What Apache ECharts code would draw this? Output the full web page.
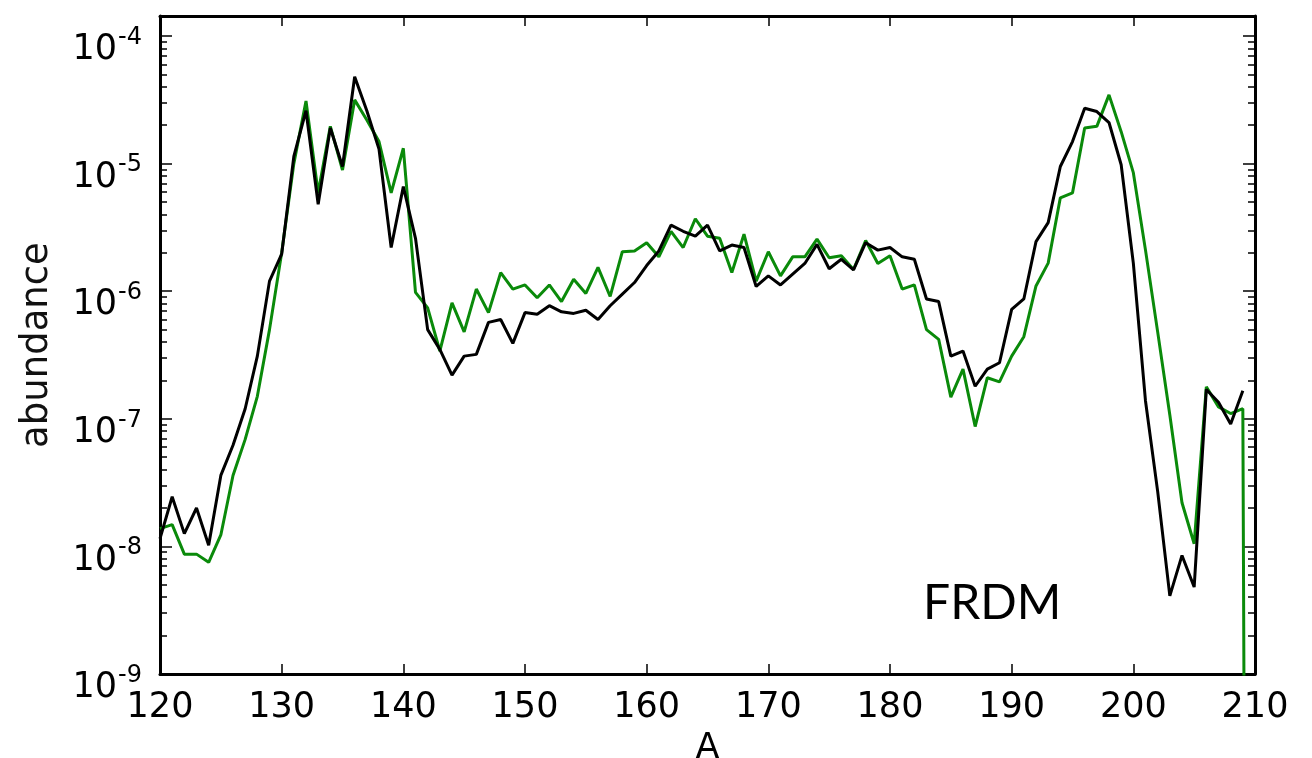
<!DOCTYPE html>
<html>
<head>
<meta charset="utf-8">
<script src="https://cdn.jsdelivr.net/npm/echarts@6/dist/echarts.min.js"></script>
<style>
  html, body { margin: 0; padding: 0; background: #ffffff; }
  #chart { width: 1312px; height: 758px; }
</style>
</head>
<body>
<div id="chart"></div>
<script>
// Mass number A for every point on both curves
const massNumbers = [
  120, 121, 122, 123, 124, 125, 126, 127, 128, 129,
  130, 131, 132, 133, 134, 135, 136, 137, 138, 139,
  140, 141, 142, 143, 144, 145, 146, 147, 148, 149,
  150, 151, 152, 153, 154, 155, 156, 157, 158, 159,
  160, 161, 162, 163, 164, 165, 166, 167, 168, 169,
  170, 171, 172, 173, 174, 175, 176, 177, 178, 179,
  180, 181, 182, 183, 184, 185, 186, 187, 188, 189,
  190, 191, 192, 193, 194, 195, 196, 197, 198, 199,
  200, 201, 202, 203, 204, 205, 206, 207, 208, 209,
  210
];

// Final abundances, black curve
const abundanceBlack = [
  1.15e-8, 2.45e-8, 1.26e-8, 2.0e-8, 1.02e-8, 3.6e-8, 6.2e-8, 1.2e-7, 3.1e-7, 1.2e-6,
  1.95e-6, 1.14e-5, 2.6e-5, 4.8e-6, 1.9e-5, 9.5e-6, 4.8e-5, 2.6e-5, 1.3e-5, 2.2e-6,
  6.6e-6, 2.6e-6, 5.0e-7, 3.5e-7, 2.2e-7, 3.1e-7, 3.2e-7, 5.7e-7, 6.0e-7, 3.9e-7,
  6.8e-7, 6.6e-7, 7.7e-7, 6.9e-7, 6.7e-7, 7.1e-7, 6.0e-7, 7.7e-7, 9.5e-7, 1.17e-6,
  1.59e-6, 2.07e-6, 3.3e-6, 2.95e-6, 2.7e-6, 3.3e-6, 2.07e-6, 2.3e-6, 2.2e-6, 1.09e-6,
  1.32e-6, 1.12e-6, 1.36e-6, 1.65e-6, 2.33e-6, 1.5e-6, 1.78e-6, 1.47e-6, 2.4e-6, 2.1e-6,
  2.2e-6, 1.86e-6, 1.78e-6, 8.7e-7, 8.3e-7, 3.1e-7, 3.4e-7, 1.8e-7, 2.45e-7, 2.75e-7,
  7.2e-7, 8.7e-7, 2.45e-6, 3.45e-6, 9.5e-6, 1.49e-5, 2.72e-5, 2.56e-5, 2.1e-5, 9.8e-6,
  1.66e-6, 1.38e-7, 2.7e-8, 4.1e-9, 8.5e-9, 4.8e-9, 1.7e-7, 1.35e-7, 9.1e-8, 1.66e-7,
  null
];

// Final abundances, green curve (the last value is effectively zero)
const abundanceGreen = [
  1.38e-8, 1.48e-8, 8.7e-9, 8.7e-9, 7.5e-9, 1.23e-8, 3.6e-8, 6.9e-8, 1.5e-7, 5.0e-7,
  2.0e-6, 1.0e-5, 3.1e-5, 5.9e-6, 1.96e-5, 8.9e-6, 3.16e-5, 2.2e-5, 1.49e-5, 5.9e-6,
  1.32e-5, 9.8e-7, 7.4e-7, 3.4e-7, 8.1e-7, 4.8e-7, 1.04e-6, 6.8e-7, 1.4e-6, 1.04e-6,
  1.12e-6, 8.9e-7, 1.12e-6, 8.3e-7, 1.24e-6, 9.6e-7, 1.54e-6, 9.1e-7, 2.04e-6, 2.07e-6,
  2.4e-6, 1.86e-6, 2.95e-6, 2.2e-6, 3.7e-6, 2.7e-6, 2.6e-6, 1.4e-6, 2.8e-6, 1.2e-6,
  2.04e-6, 1.32e-6, 1.86e-6, 1.86e-6, 2.56e-6, 1.83e-6, 1.9e-6, 1.48e-6, 2.5e-6, 1.65e-6,
  1.9e-6, 1.04e-6, 1.12e-6, 5.0e-7, 4.2e-7, 1.48e-7, 2.45e-7, 8.7e-8, 2.1e-7, 1.95e-7,
  3.1e-7, 4.4e-7, 1.1e-6, 1.66e-6, 5.4e-6, 5.9e-6, 1.9e-5, 1.96e-5, 3.46e-5, 1.78e-5,
  8.5e-6, 2.1e-6, 4.8e-7, 1.07e-7, 2.2e-8, 1.05e-8, 1.78e-7, 1.24e-7, 1.1e-7, 1.2e-7,
  1e-30
];

// Axis ranges and ticks
const xTickValues = [120, 130, 140, 150, 160, 170, 180, 190, 200, 210];
const yDecadeExponents = [-9, -8, -7, -6, -5, -4];
const yMin = 1e-9;
const yMax = 1.436e-4;

const INK = '#000000';
const LABEL_FONT = 'DejaVu Sans';

// minor log ticks at 2..9 x 10^n
const yMinorTicks = [];
yDecadeExponents.forEach(function (e) {
  for (let m = 2; m <= 9; m++) {
    const v = m * Math.pow(10, e);
    if (v < yMax) yMinorTicks.push(v);
  }
});

function pairs(values) {
  return massNumbers.map(function (a, i) { return [a, values[i]]; });
}

const frameLine = { show: true, onZero: false, lineStyle: { color: INK, width: 3 } };

function xAxisFor(position, showLabels) {
  return {
    type: 'value', position: position,
    min: xTickValues[0], max: xTickValues[xTickValues.length - 1], interval: 10,
    axisLine: frameLine,
    axisTick: { show: true, inside: true, length: 10, lineStyle: { color: INK, width: 1.5 } },
    axisLabel: {
      show: showLabels, color: INK, fontFamily: LABEL_FONT, fontSize: 35, margin: 16
    },
    splitLine: { show: false }
  };
}

function yAxisFor(position, minor) {
  return {
    type: 'log', logBase: 10, position: position,
    min: yMin, max: yMax,
    axisLine: minor ? { show: false } : frameLine,
    axisTick: minor
      ? { show: true, inside: true, length: 7, customValues: yMinorTicks, lineStyle: { color: INK, width: 1.5 } }
      : { show: true, inside: true, length: 12, lineStyle: { color: INK, width: 1.5 } },
    axisLabel: { show: false },
    splitLine: { show: false },
    minorTick: { show: false }
  };
}

const yMainLeft = yAxisFor('left', false);
yMainLeft.axisLabel = {
  show: true,
  showMaxLabel: false,
  margin: 18,
  padding: [28, 0, 0, 0],
  formatter: function (v) {
    const e = Math.round(Math.log10(v));
    return '{b|10}{s|' + e + '}';
  },
  rich: {
    b: { fontFamily: LABEL_FONT, fontSize: 35, color: INK, lineHeight: 35, padding: [0, 1, 0, 0] },
    s: { fontFamily: LABEL_FONT, fontSize: 24, color: INK, padding: [0, 0, 25, 0] }
  }
};
yMainLeft.name = 'abundance';
yMainLeft.nameLocation = 'middle';
yMainLeft.nameRotate = 90;
yMainLeft.nameGap = 104;
yMainLeft.nameTextStyle = { fontFamily: LABEL_FONT, fontSize: 37, color: '#111111' };

const xMainBottom = xAxisFor('bottom', true);
xMainBottom.name = 'A';
xMainBottom.nameLocation = 'middle';
xMainBottom.nameGap = 57;
xMainBottom.nameTextStyle = { fontFamily: LABEL_FONT, fontSize: 35, color: INK };

const chart = echarts.init(document.getElementById('chart'), null, { renderer: 'canvas' });

chart.setOption({
  backgroundColor: '#ffffff',
  animation: false,
  title: {
    text: 'FRDM',
    left: 918, top: 575,
    textStyle: { fontFamily: 'Lato', fontSize: 48, fontWeight: 'normal', color: INK }
  },
  grid: {
    left: 160, right: 57, top: 16, bottom: 84,
    containLabel: false, outerBoundsMode: 'none'
  },
  xAxis: [xMainBottom, xAxisFor('top', false)],
  yAxis: [yMainLeft, yAxisFor('left', true), yAxisFor('right', false), yAxisFor('right', true)],
  series: [
    {
      name: 'black', type: 'line', xAxisIndex: 0, yAxisIndex: 0,
      data: pairs(abundanceBlack),
      showSymbol: false, clip: true, connectNulls: false,
      lineStyle: { color: '#000000', width: 3 },
      z: 3
    },
    {
      name: 'green', type: 'line', xAxisIndex: 0, yAxisIndex: 0,
      data: pairs(abundanceGreen),
      showSymbol: false, clip: true,
      lineStyle: { color: '#0a8a0a', width: 3 },
      z: 2
    }
  ]
});
</script>
</body>
</html>
